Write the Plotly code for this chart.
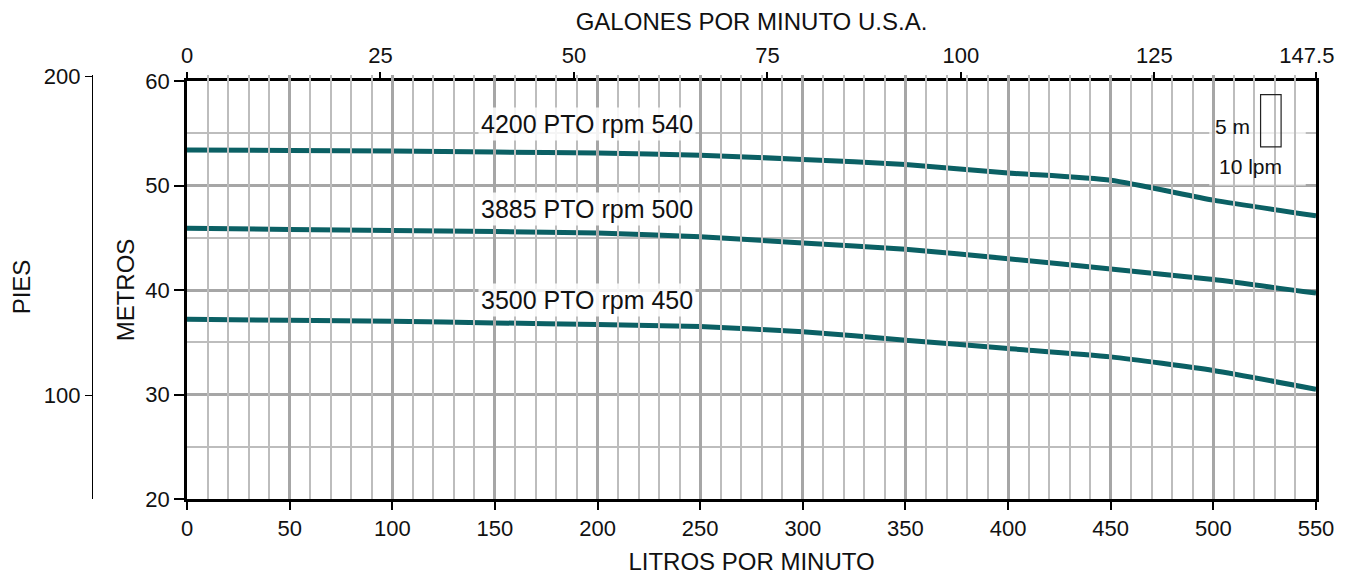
import plotly.graph_objects as go

# ---- data ----
lpm = [0, 50, 100, 150, 200, 250, 300, 350, 400, 450, 500, 550]
head_540 = [53.4, 53.35, 53.3, 53.2, 53.1, 52.9, 52.5, 52.0, 51.2, 50.5, 48.6, 47.1]
head_500 = [45.9, 45.8, 45.7, 45.6, 45.45, 45.1, 44.5, 43.9, 43.0, 42.0, 41.0, 39.7]
head_450 = [37.2, 37.1, 37.0, 36.85, 36.7, 36.5, 36.0, 35.2, 34.4, 33.6, 32.3, 30.5]
series_labels = ["4200 PTO rpm 540", "3885 PTO rpm 500", "3500 PTO rpm 450"]
label_y = [55.9, 47.75, 39.0]
label_x = 195

gal_ticks = [0, 25, 50, 75, 100, 125, 147.5]
LPM_PER_GAL = 3.77
x_max = 550
pies_ticks = [100, 200]
M_PER_FT = 0.3048

LINE_COLOR = "#0b6064"
FONT = "Liberation Sans, Arial, sans-serif"

# page has an 8px body margin; figure coordinates = page coordinates - 8
W, H = 1338, 567
ml, mr, mt, mb = 84, 30, 67, 76
plot_w = W - ml - mr
plot_h = H - mt - mb
x_dom0 = (179 - ml) / plot_w
y_dom1 = (491 - 73) / plot_h

fig = go.Figure()
for ys in (head_540, head_500, head_450):
    fig.add_trace(go.Scatter(x=lpm, y=ys, mode="lines",
                             line=dict(color=LINE_COLOR, width=5, shape="spline", smoothing=0.6),
                             showlegend=False, hoverinfo="skip"))

# PIES axis helper trace (invisible)
px_per_m = (491 - 73) / 40.0
ft_lo = 100 - (491 - 387) / px_per_m / M_PER_FT
ft_hi = ft_lo + plot_h / px_per_m / M_PER_FT
fig.add_trace(go.Scatter(x=[None], y=[None], yaxis="y2", showlegend=False, hoverinfo="skip"))
# top axis helper
fig.add_trace(go.Scatter(x=[None], y=[None], xaxis="x2", showlegend=False, hoverinfo="skip"))

for t, yv in zip(series_labels, label_y):
    fig.add_annotation(x=label_x, y=yv, text=t, showarrow=False, xref="x", yref="y",
                       font=dict(family=FONT, size=25, color="#111"),
                       bgcolor="rgba(255,255,255,0.85)", borderpad=2)

# scale legend box
fig.add_shape(type="rect", xref="x", yref="y", x0=498, x1=545, y0=50.0, y1=59.6,
              fillcolor="rgba(255,255,255,0.75)", line=dict(width=0), layer="between")
fig.add_shape(type="rect", xref="x", yref="y", x0=523, x1=533, y0=53.7, y1=58.7,
              fillcolor="rgba(0,0,0,0)", line=dict(color="#222", width=1.2), layer="above")
fig.add_annotation(x=519, y=55.6, text="5 m", showarrow=False, xanchor="right",
                   font=dict(family=FONT, size=21, color="#111"))
fig.add_annotation(x=518, y=51.8, text="10 lpm", showarrow=False,
                   font=dict(family=FONT, size=21, color="#111"))

tick_font = dict(family=FONT, size=22, color="#111")
title_font = dict(family=FONT, size=24, color="#111")

gal_text = [str(g) for g in gal_ticks]
gal_text[-1] = gal_text[-1] + "\u00a0\u00a0\u00a0"

fig.update_layout(
    width=W, height=H,
    margin=dict(l=ml, r=mr, t=mt, b=mb, autoexpand=False),
    paper_bgcolor="white", plot_bgcolor="rgba(0,0,0,0)",
    xaxis=dict(domain=[x_dom0, 1], range=[0, x_max], tickvals=list(range(0, 551, 50)),
               ticks="outside", ticklen=8, tickcolor="black", tickwidth=1.5,
               showline=True, linecolor="black", linewidth=2.5, mirror=True,
               showgrid=True, gridcolor="#a6a6a6", gridwidth=2.5,
               minor=dict(dtick=10, showgrid=True, gridcolor="#bdbdbd", gridwidth=1.5),
               tickfont=tick_font, zeroline=False,
               title=dict(text="LITROS POR MINUTO", font=title_font, standoff=16)),
    xaxis2=dict(overlaying="x", side="top", anchor="y", range=[0, x_max],
                tickvals=[min(g * LPM_PER_GAL, x_max) for g in gal_ticks],
                ticktext=gal_text, ticklabeloverflow="allow",
                ticks="outside", ticklen=8, tickcolor="black", tickwidth=1.5,
                showgrid=False, zeroline=False, showline=False, tickfont=tick_font,
                title=dict(text="GALONES POR MINUTO U.S.A.", font=title_font, standoff=16)),
    yaxis=dict(domain=[0, y_dom1], range=[20, 60], dtick=10,
               ticks="outside", ticklen=10, tickcolor="black", tickwidth=1.5,
               showline=True, linecolor="black", linewidth=2.5, mirror=True,
               showgrid=True, gridcolor="#a6a6a6", gridwidth=2.5,
               minor=dict(dtick=5, showgrid=True, gridcolor="#bdbdbd", gridwidth=1.5),
               tickfont=tick_font, zeroline=False,
               title=dict(text="METROS", font=title_font, standoff=4)),
    yaxis2=dict(domain=[0, 1], anchor="free", position=0, side="left",
                range=[ft_lo, ft_hi], tickvals=pies_ticks,
                ticks="outside", ticklen=7, tickcolor="black", tickwidth=1.2,
                showline=True, linecolor="black", linewidth=1.2,
                showgrid=False, zeroline=False, tickfont=tick_font,
                title=dict(text="PIES", font=title_font, standoff=10)),
)

fig.write_html("out.html")
